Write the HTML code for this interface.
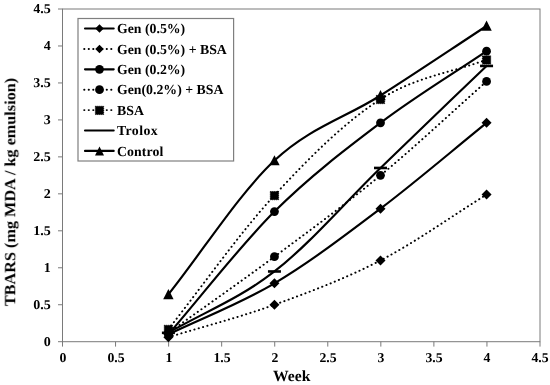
<!DOCTYPE html><html><head><meta charset="utf-8"><style>
html,body{margin:0;padding:0;background:#fff}
#c{position:relative;width:550px;height:385px;background:#fff;overflow:hidden;font-family:"Liberation Serif",serif;font-weight:bold;color:#000}
.t{position:absolute;white-space:nowrap;line-height:1;will-change:transform;text-rendering:geometricPrecision}
.yl{font-size:13.5px;right:498.9px;text-align:right;transform:scaleX(1.04);transform-origin:100% 50%}
.xl{font-size:13.5px;width:40px;text-align:center;top:351.2px;transform:scaleX(1.02);transform-origin:50% 50%}
.lg{font-size:13.8px;left:117.3px}
</style></head><body><div id="c">
<svg width="550" height="385" viewBox="0 0 550 385" style="position:absolute;left:0;top:0">
<rect x="62.5" y="9.0" width="477.5" height="332.7" fill="#fff" stroke="#7a7a7a" stroke-width="1"/>
<line x1="58" x2="62.5" y1="341.70" y2="341.70" stroke="#7a7a7a" stroke-width="1"/>
<line x1="62.50" x2="62.50" y1="341.7" y2="346.6" stroke="#7a7a7a" stroke-width="1"/>
<line x1="58" x2="62.5" y1="304.74" y2="304.74" stroke="#7a7a7a" stroke-width="1"/>
<line x1="115.56" x2="115.56" y1="341.7" y2="346.6" stroke="#7a7a7a" stroke-width="1"/>
<line x1="58" x2="62.5" y1="267.77" y2="267.77" stroke="#7a7a7a" stroke-width="1"/>
<line x1="168.61" x2="168.61" y1="341.7" y2="346.6" stroke="#7a7a7a" stroke-width="1"/>
<line x1="58" x2="62.5" y1="230.80" y2="230.80" stroke="#7a7a7a" stroke-width="1"/>
<line x1="221.67" x2="221.67" y1="341.7" y2="346.6" stroke="#7a7a7a" stroke-width="1"/>
<line x1="58" x2="62.5" y1="193.84" y2="193.84" stroke="#7a7a7a" stroke-width="1"/>
<line x1="274.72" x2="274.72" y1="341.7" y2="346.6" stroke="#7a7a7a" stroke-width="1"/>
<line x1="58" x2="62.5" y1="156.87" y2="156.87" stroke="#7a7a7a" stroke-width="1"/>
<line x1="327.78" x2="327.78" y1="341.7" y2="346.6" stroke="#7a7a7a" stroke-width="1"/>
<line x1="58" x2="62.5" y1="119.91" y2="119.91" stroke="#7a7a7a" stroke-width="1"/>
<line x1="380.83" x2="380.83" y1="341.7" y2="346.6" stroke="#7a7a7a" stroke-width="1"/>
<line x1="58" x2="62.5" y1="82.94" y2="82.94" stroke="#7a7a7a" stroke-width="1"/>
<line x1="433.89" x2="433.89" y1="341.7" y2="346.6" stroke="#7a7a7a" stroke-width="1"/>
<line x1="58" x2="62.5" y1="45.98" y2="45.98" stroke="#7a7a7a" stroke-width="1"/>
<line x1="486.94" x2="486.94" y1="341.7" y2="346.6" stroke="#7a7a7a" stroke-width="1"/>
<line x1="58" x2="62.5" y1="9.01" y2="9.01" stroke="#7a7a7a" stroke-width="1"/>
<line x1="540.00" x2="540.00" y1="341.7" y2="346.6" stroke="#7a7a7a" stroke-width="1"/>
<path d="M168.40,334.31 C203.75,317.30 239.10,304.24 274.45,283.30 C309.80,262.35 345.15,235.36 380.50,208.63 C415.85,181.89 451.20,151.45 486.55,122.87" fill="none" stroke="#000" stroke-width="2.15" />
<path d="M168.40,329.31 L173.40,334.31 L168.40,339.31 L163.40,334.31Z" fill="#000"/>
<path d="M274.45,278.30 L279.45,283.30 L274.45,288.30 L269.45,283.30Z" fill="#000"/>
<path d="M380.50,203.63 L385.50,208.63 L380.50,213.63 L375.50,208.63Z" fill="#000"/>
<path d="M486.55,117.87 L491.55,122.87 L486.55,127.87 L481.55,122.87Z" fill="#000"/>
<path d="M168.40,337.26 C203.75,326.42 239.10,317.55 274.45,304.74 C309.80,291.92 345.15,278.74 380.50,260.38 C415.85,242.02 451.20,216.51 486.55,194.58" fill="none" stroke="#000" stroke-width="1.95" stroke-dasharray="0.2 4.3" stroke-linecap="round"/>
<path d="M168.40,332.26 L173.40,337.26 L168.40,342.26 L163.40,337.26Z" fill="#000"/>
<path d="M274.45,299.74 L279.45,304.74 L274.45,309.74 L269.45,304.74Z" fill="#000"/>
<path d="M380.50,255.38 L385.50,260.38 L380.50,265.38 L375.50,260.38Z" fill="#000"/>
<path d="M486.55,189.58 L491.55,194.58 L486.55,199.58 L481.55,194.58Z" fill="#000"/>
<path d="M168.40,334.31 C203.75,293.40 239.10,246.82 274.45,211.58 C309.80,176.34 345.15,149.61 380.50,122.87 C415.85,96.13 451.20,75.06 486.55,51.16" fill="none" stroke="#000" stroke-width="2.15" />
<circle cx="168.40" cy="334.31" r="4.4" fill="#000"/>
<circle cx="274.45" cy="211.58" r="4.4" fill="#000"/>
<circle cx="380.50" cy="122.87" r="4.4" fill="#000"/>
<circle cx="486.55" cy="51.16" r="4.4" fill="#000"/>
<path d="M168.40,332.83 C203.75,307.45 239.10,282.93 274.45,256.68 C309.80,230.44 345.15,204.56 380.50,175.36 C415.85,146.16 451.20,112.76 486.55,81.47" fill="none" stroke="#000" stroke-width="1.95" stroke-dasharray="0.2 4.3" stroke-linecap="round"/>
<circle cx="168.40" cy="332.83" r="4.4" fill="#000"/>
<circle cx="274.45" cy="256.68" r="4.4" fill="#000"/>
<circle cx="380.50" cy="175.36" r="4.4" fill="#000"/>
<circle cx="486.55" cy="81.47" r="4.4" fill="#000"/>
<path d="M168.40,329.13 C203.75,284.53 239.10,233.64 274.45,195.32 C309.80,157.00 345.15,121.82 380.50,99.21 C415.85,76.60 451.20,72.84 486.55,59.66" fill="none" stroke="#000" stroke-width="1.95" stroke-dasharray="0.2 4.3" stroke-linecap="round"/>
<rect x="164.25" y="325.28" width="8.3" height="8.3" fill="#000" stroke="#000" stroke-width="0.9" stroke-dasharray="1 1"/>
<rect x="270.30" y="191.47" width="8.3" height="8.3" fill="#000" stroke="#000" stroke-width="0.9" stroke-dasharray="1 1"/>
<rect x="376.35" y="95.36" width="8.3" height="8.3" fill="#000" stroke="#000" stroke-width="0.9" stroke-dasharray="1 1"/>
<rect x="482.40" y="55.81" width="8.3" height="8.3" fill="#000" stroke="#000" stroke-width="0.9" stroke-dasharray="1 1"/>
<path d="M168.40,332.83 C203.75,312.37 239.10,298.94 274.45,271.47 C309.80,243.99 345.15,202.22 380.50,167.96 C415.85,133.71 451.20,99.95 486.55,65.94" fill="none" stroke="#000" stroke-width="2.15" />
<rect x="161.90" y="331.53" width="13" height="2.6" fill="#000"/>
<rect x="267.95" y="270.17" width="13" height="2.6" fill="#000"/>
<rect x="374.00" y="166.66" width="13" height="2.6" fill="#000"/>
<rect x="480.05" y="64.64" width="13" height="2.6" fill="#000"/>
<path d="M168.40,294.38 C203.75,249.78 239.10,193.72 274.45,160.57 C309.80,127.43 345.15,117.94 380.50,95.51 C415.85,73.09 451.20,49.18 486.55,26.02" fill="none" stroke="#000" stroke-width="2.15" />
<path d="M168.40,288.98 L173.60,299.18 L163.20,299.18Z" fill="#000"/>
<path d="M274.45,155.17 L279.65,165.37 L269.25,165.37Z" fill="#000"/>
<path d="M380.50,90.11 L385.70,100.31 L375.30,100.31Z" fill="#000"/>
<path d="M486.55,20.62 L491.75,30.82 L481.35,30.82Z" fill="#000"/>
<rect x="78" y="18.5" width="155.6" height="142.5" fill="#fff" stroke="#7f7f7f" stroke-width="1.2"/>
<line x1="85" x2="113.7" y1="28.5" y2="28.5" stroke-linecap="round" stroke="#000" stroke-width="2.15" />
<path d="M99.50,24.25 L103.75,28.50 L99.50,32.75 L95.25,28.50Z" fill="#000"/>
<line x1="84.2" x2="114.7" y1="48.9" y2="48.9" stroke-linecap="round" stroke="#000" stroke-width="1.95" stroke-dasharray="0.2 4.3" stroke-linecap="round"/>
<path d="M99.50,44.65 L103.75,48.90 L99.50,53.15 L95.25,48.90Z" fill="#000"/>
<line x1="85" x2="113.7" y1="69.3" y2="69.3" stroke-linecap="round" stroke="#000" stroke-width="2.15" />
<circle cx="99.50" cy="69.30" r="4.4" fill="#000"/>
<line x1="84.2" x2="114.7" y1="89.69999999999999" y2="89.69999999999999" stroke-linecap="round" stroke="#000" stroke-width="1.95" stroke-dasharray="0.2 4.3" stroke-linecap="round"/>
<circle cx="99.50" cy="89.70" r="4.4" fill="#000"/>
<line x1="84.2" x2="114.7" y1="110.1" y2="110.1" stroke-linecap="round" stroke="#000" stroke-width="1.95" stroke-dasharray="0.2 4.3" stroke-linecap="round"/>
<rect x="95.35" y="106.25" width="8.3" height="8.3" fill="#000" stroke="#000" stroke-width="0.9" stroke-dasharray="1 1"/>
<line x1="85" x2="113.7" y1="130.5" y2="130.5" stroke-linecap="round" stroke="#000" stroke-width="2.15" />
<line x1="85" x2="113.7" y1="150.89999999999998" y2="150.89999999999998" stroke-linecap="round" stroke="#000" stroke-width="2.15" />
<path d="M99.50,146.60 L104.00,155.50 L95.00,155.50Z" fill="#000"/>
</svg>
<div class="t yl" style="top:335.1px">0</div>
<div class="t xl" style="left:42.5px">0</div>
<div class="t yl" style="top:298.1px">0.5</div>
<div class="t xl" style="left:95.6px">0.5</div>
<div class="t yl" style="top:261.2px">1</div>
<div class="t xl" style="left:148.6px">1</div>
<div class="t yl" style="top:224.2px">1.5</div>
<div class="t xl" style="left:201.7px">1.5</div>
<div class="t yl" style="top:187.2px">2</div>
<div class="t xl" style="left:254.7px">2</div>
<div class="t yl" style="top:150.3px">2.5</div>
<div class="t xl" style="left:307.8px">2.5</div>
<div class="t yl" style="top:113.3px">3</div>
<div class="t xl" style="left:360.8px">3</div>
<div class="t yl" style="top:76.3px">3.5</div>
<div class="t xl" style="left:413.9px">3.5</div>
<div class="t yl" style="top:39.4px">4</div>
<div class="t xl" style="left:466.9px">4</div>
<div class="t yl" style="top:2.4px">4.5</div>
<div class="t xl" style="left:520.0px">4.5</div>
<div class="t lg" style="top:22.1px">Gen (0.5%)</div>
<div class="t lg" style="top:42.5px">Gen (0.5%) + BSA</div>
<div class="t lg" style="top:62.9px">Gen (0.2%)</div>
<div class="t lg" style="top:83.3px">Gen(0.2%) + BSA</div>
<div class="t lg" style="top:103.7px">BSA</div>
<div class="t lg" style="letter-spacing:0.4px;top:124.1px">Trolox</div>
<div class="t lg" style="letter-spacing:0.08px;top:144.5px">Control</div>
<div class="t" style="font-size:15.5px;left:272.8px;top:368.9px;transform:scaleX(1.01);transform-origin:0 50%">Week</div>
<div class="t" id="ylab" style="font-size:15.5px;left:10.5px;top:192.3px;transform:translate(-50%,-50%) rotate(-90deg) scaleX(1.045);">TBARS (mg MDA / kg emulsion)</div>
</div></body></html>
